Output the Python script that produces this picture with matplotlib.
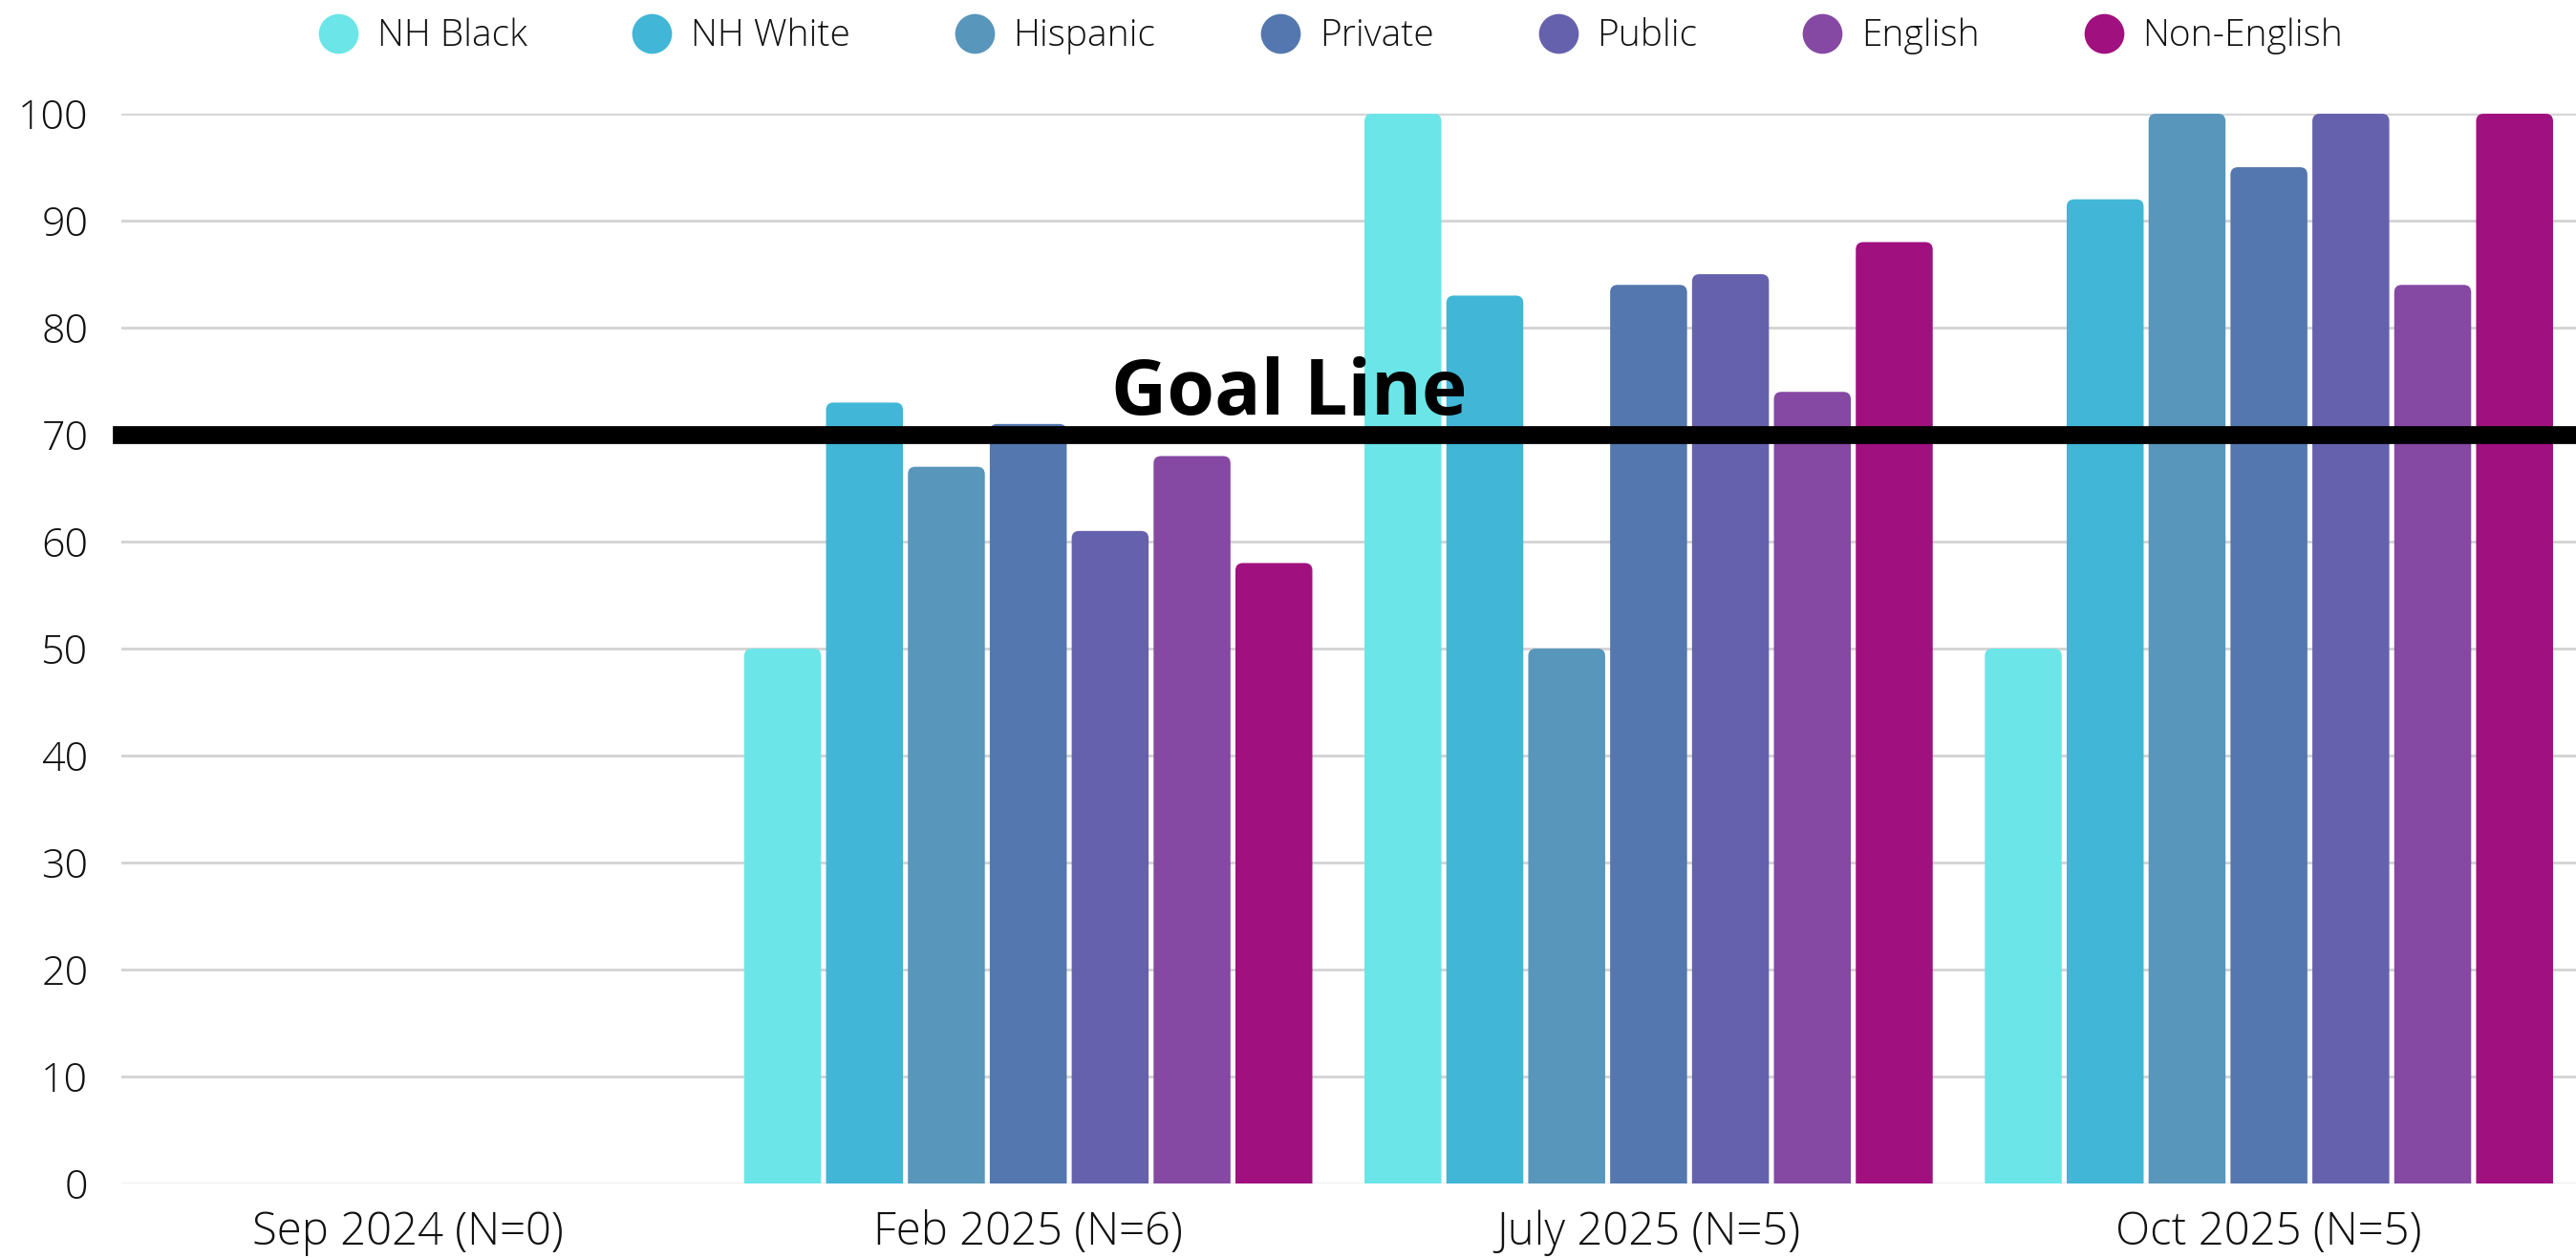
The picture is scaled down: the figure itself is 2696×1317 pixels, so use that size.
import matplotlib
matplotlib.use("Agg")
import matplotlib.pyplot as plt
from matplotlib.lines import Line2D
from matplotlib.patches import FancyBboxPatch
from matplotlib.transforms import Bbox, TransformedBbox
import numpy as np

categories = ["Sep 2024 (N=0)", "Feb 2025 (N=6)", "July 2025 (N=5)", "Oct 2025 (N=5)"]
series_names = ["NH Black", "NH White", "Hispanic", "Private", "Public", "English", "Non-English"]
nh_black = [0, 50, 100, 50]
nh_white = [0, 73, 83, 92]
hispanic = [0, 67, 50, 100]
private = [0, 71, 84, 95]
public = [0, 61, 85, 100]
english = [0, 68, 74, 84]
non_english = [0, 58, 88, 100]
goal_value = 70
y_ticks = [0, 10, 20, 30, 40, 50, 60, 70, 80, 90, 100]

series_values = [nh_black, nh_white, hispanic, private, public, english, non_english]
colors = ["#6CE5E8", "#41B6D6", "#5896BB", "#5377AE", "#6661AD", "#8548A3", "#A0107F"]

FONT = "Open Sans"
plt.rcParams["font.family"] = [FONT, "DejaVu Sans"]

fig = plt.figure(figsize=(26.96, 13.17), dpi=100)
ax = fig.add_axes([0.0471, 0.0592, 0.9529, 0.8504])
ax.set_xlim(-0.462, 3.495)
ax.set_ylim(0, 100)

x = np.arange(len(categories))
n = len(series_names)
slot = 0.132
bar_w = 0.124
rx = 0.012          # corner radius in x data units
aspect = 58.0       # y/x data-unit ratio for a circular corner
# clip region: everything above the baseline, so bar bottoms stay square
clip_box = TransformedBbox(Bbox([[-1, 0], [5, 200]]), ax.transData)

for i, (name, vals, c) in enumerate(zip(series_names, series_values, colors)):
    offs = (i - (n - 1) / 2) * slot
    bars = ax.bar(x + offs, vals, width=bar_w, color=c, label=name, zorder=2, linewidth=0)
    for rect in bars:
        x0, w, h = rect.get_x(), rect.get_width(), rect.get_height()
        rect.set_visible(False)
        if h <= 0:
            continue
        fb = FancyBboxPatch((x0, -rx * aspect), w, h + rx * aspect,
                            boxstyle=f"round,pad=0,rounding_size={rx}",
                            mutation_aspect=aspect, facecolor=c, edgecolor="none",
                            zorder=2)
        ax.add_patch(fb)
        fb.set_clip_box(clip_box)
        fb.set_clip_on(True)

ax.set_yticks(y_ticks)
ax.set_xticks(x)
ax.set_xticklabels(categories)

ax.grid(axis="y", color="#d3d3d3", linewidth=2, zorder=0)
ax.get_ygridlines()[0].set_color("#eeeeee")
ax.set_axisbelow(True)
for s in ax.spines.values():
    s.set_visible(False)
ax.tick_params(axis="both", length=0, colors="#111111")
ax.tick_params(axis="y", pad=25, labelsize=31)
ax.tick_params(axis="x", pad=20, labelsize=34)
for lab in ax.get_xticklabels() + ax.get_yticklabels():
    lab.set_fontweight(300)

# goal line
ax.axhline(goal_value, color="black", linewidth=13.5, zorder=3, clip_on=False)
ax.text(1.134, goal_value + 0.2, "Goal Line", fontsize=58, fontweight="bold",
        ha="left", va="bottom", color="black", zorder=4, family=["Open Sans", "DejaVu Sans"])

handles = [Line2D([0], [0], marker="o", linestyle="none", markersize=30,
                  markerfacecolor=c, markeredgewidth=0) for c in colors]
leg = fig.legend(handles, series_names, loc="center", bbox_to_anchor=(0.5168, 0.971),
                 ncol=n, frameon=False, handletextpad=0.55,
                 columnspacing=2.85, handlelength=1.0,
                 prop={"family": [FONT, "DejaVu Sans"], "size": 28, "weight": 300})
for t in leg.get_texts():
    t.set_color("#111111")

fig.savefig("out.png", dpi=100)
